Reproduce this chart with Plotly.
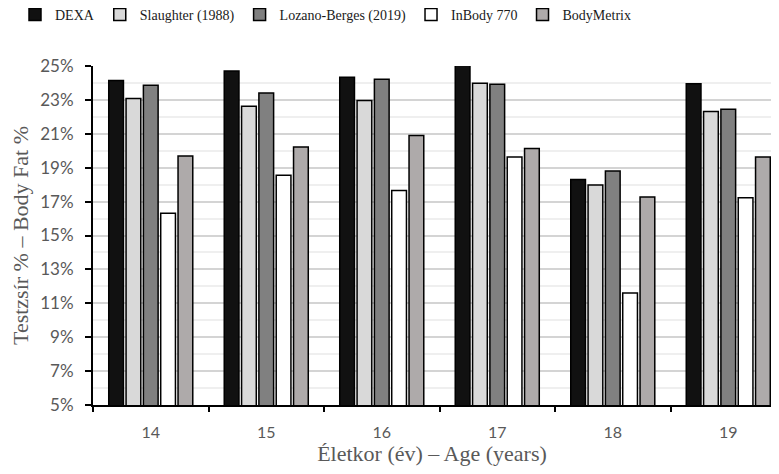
import plotly.graph_objects as go

ages = ["14", "15", "16", "17", "18", "19"]
series_names = ["DEXA", "Slaughter (1988)", "Lozano-Berges (2019)", "InBody 770", "BodyMetrix"]
dexa = [24.14, 24.71, 24.33, 25.05, 18.31, 23.96]
slaughter = [23.08, 22.63, 22.96, 23.98, 17.98, 22.31]
lozano = [23.86, 23.41, 24.22, 23.92, 18.80, 22.45]
inbody = [16.31, 18.55, 17.65, 19.63, 11.61, 17.22]
bodymetrix = [19.69, 20.22, 20.90, 20.14, 17.27, 19.63]
y_ticks = [5, 7, 9, 11, 13, 15, 17, 19, 21, 23, 25]

series = [dexa, slaughter, lozano, inbody, bodymetrix]
colors = ["#111111", "#d9d9d9", "#808080", "#ffffff", "#aeaaaa"]

fig = go.Figure()
for name, vals, col in zip(series_names, series, colors):
    fig.add_trace(go.Bar(
        x=ages, y=vals, name=name,
        marker=dict(color=col, line=dict(color="#000000", width=1.5)),
    ))

fig.update_layout(
    width=763, height=458,
    margin=dict(l=85, r=0, t=58, b=61, autoexpand=False),
    plot_bgcolor="white", paper_bgcolor="white",
    barmode="group", bargap=0.25, bargroupgap=0.15,
    showlegend=True,
    legend=dict(
        orientation="h", xref="container", yref="container",
        x=7 / 763, y=0.985, xanchor="left", yanchor="middle",
        font=dict(family="Liberation Serif", size=14, color="#1a1a1a"),
        itemwidth=30, traceorder="normal",
    ),
    xaxis=dict(
        type="category", range=[-0.5, 5.37], automargin=False,
        showline=True, linecolor="#000000", linewidth=2,
        ticks="outside", ticklen=5, tickwidth=2, tickcolor="#000000",
        tickson="boundaries", ticklabelstandoff=12,
        tickfont=dict(family="Lato", size=16, color="#595959"),
        title=dict(text="Életkor (év) – Age (years)", standoff=15,
                   font=dict(family="Liberation Serif", size=22, color="#595959")),
    ),
    yaxis=dict(
        range=[5, 25], tickvals=y_ticks, ticktext=[f"{v}%" for v in y_ticks],
        automargin=False,
        showline=True, linecolor="#000000", linewidth=2,
        ticks="outside", ticklen=6, tickwidth=2, tickcolor="#000000",
        ticklabelstandoff=8,
        showgrid=True, gridcolor="#d4d4d4", gridwidth=1.5,
        minor=dict(tickvals=[6, 8, 10, 12, 14, 16, 18, 20, 22, 24], showgrid=True,
                   gridcolor="#efefef", gridwidth=1.5, ticks=""),
        zeroline=False,
        tickfont=dict(family="Lato", size=17, color="#595959"),
        title=dict(text="Testzsír % – Body Fat %", standoff=6,
                   font=dict(family="Liberation Serif", size=22, color="#595959")),
    ),
)

fig.write_html("out.html")
